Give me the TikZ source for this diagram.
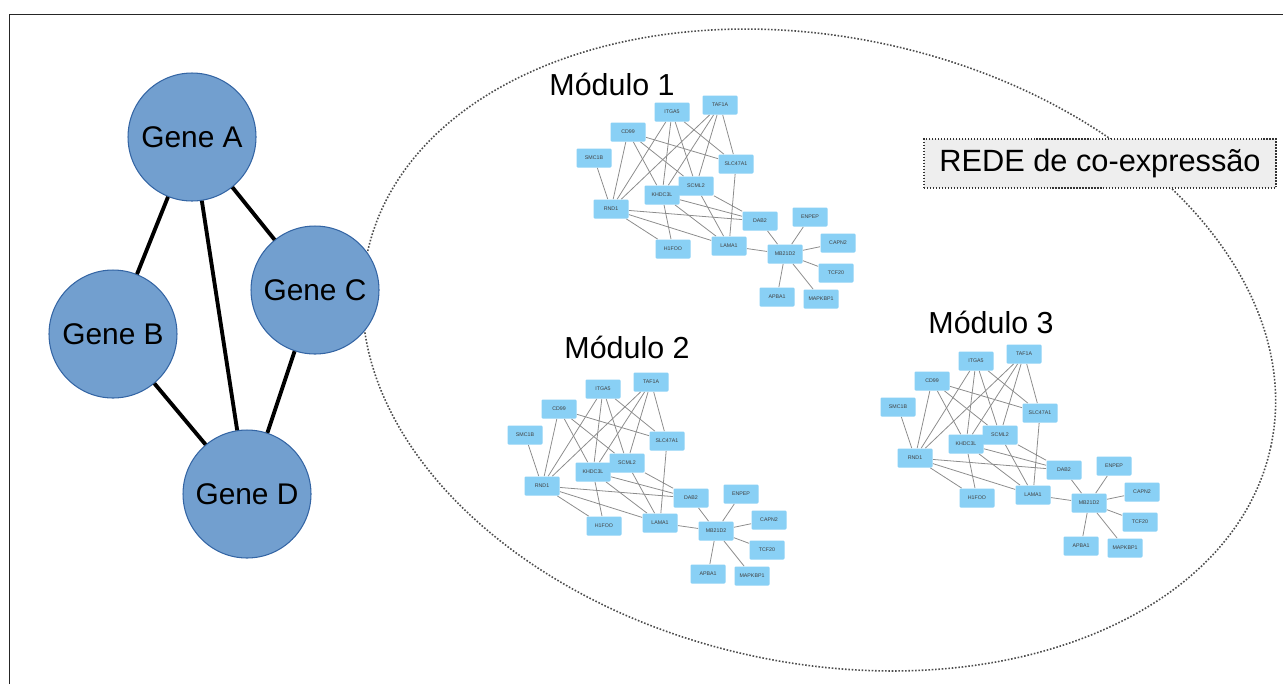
\documentclass[tikz,border=0pt]{standalone}
\usepackage{fontspec}
\setmainfont{Liberation Sans}
\usetikzlibrary{backgrounds}

\definecolor{genefill}{HTML}{729FCF}
\definecolor{geneline}{HTML}{3465A4}
\definecolor{protfill}{HTML}{89D0F5}
\definecolor{boxfill}{HTML}{EEEEEE}

\tikzset{
  gene/.style={draw=geneline,fill=genefill,circle,line width=0.6pt,inner sep=0pt,minimum size=2.56cm,font=\fontsize{17}{20}\selectfont},
  prot/.style={fill=protfill,rounded corners=0.6pt,inner sep=0pt,minimum width=0.7cm,minimum height=0.38cm,text=black!75,font=\fontsize{3}{3.5}\selectfont},
  link/.style={draw=black!45,line width=0.45pt},
  genelink/.style={draw=black,line width=2.2pt},
  modtitle/.style={font=\fontsize{17.3}{20}\selectfont},
}

\begin{document}
\begin{tikzpicture}
  [x=0.02cm,y=-0.02cm]
  \useasboundingbox (0,0) rectangle (1283,684);
  \draw[line width=0.9pt,black!85] (9.5,684) -- (9.5,14.5) -- (1283,14.5);
  \draw[densely dotted,line width=0.9pt,black!70] (819,350) ellipse [x radius=462,y radius=313,rotate=-12];
  \node[draw=black!80,densely dotted,line width=0.7pt,fill=boxfill,minimum width=7.04cm,minimum height=0.98cm,font=\fontsize{17.5}{20}\selectfont] (rede) at (1100,163.5) {REDE de co-expressão};

  \node[gene] (ga) at (192,137) {Gene A};
  \node[gene] (gb) at (113,334) {Gene B};
  \node[gene] (gc) at (315,290) {Gene C};
  \node[gene] (gd) at (247,494) {Gene D};
  \foreach \from/\to in {ga/gb,ga/gc,ga/gd,gb/gd,gc/gd}
    \draw[genelink] (\from) -- (\to);

  \node[modtitle] (t1) at (612,84) {Módulo 1};
  \node[modtitle] (t2) at (627,347) {Módulo 2};
  \node[modtitle] (t3) at (991,322) {Módulo 3};

  \foreach \m/\dx/\dy in {1/0/0,2/-69/277,3/304/249}{
    \begin{scope}[shift={(\dx,\dy)}]
      \foreach \n/\x/\y/\lab in {itga/672/112/ITGA5,taf/720/105/TAF1A,cd/628/132/CD99,smc/594/158/SMC1B,
        slc/736/164/SLC47A1,khdc/662/195/KHDC3L,scml/696/186/SCML2,rnd/611/209/RND1,dab/760/221/DAB2,
        enpep/810/217/ENPEP,hfoo/673/249/H1FOO,lama/729/246/LAMA1,mb/785/254/MB21D2,capn/838/243/CAPN2,
        tcf/836/273/TCF20,apba/777/297/APBA1,mapk/821/299/MAPKBP1}
        \node[prot] (m\m-\n) at (\x,\y) {\lab};
    \end{scope}
    \begin{pgfonlayer}{background}
      \foreach \from/\to in {smc/rnd,cd/rnd,cd/khdc,cd/scml,cd/slc,itga/rnd,itga/khdc,itga/scml,itga/slc,
        taf/rnd,taf/khdc,taf/scml,taf/slc,slc/lama,scml/dab,scml/lama,khdc/dab,khdc/lama,khdc/hfoo,
        rnd/dab,rnd/lama,rnd/hfoo,dab/mb,lama/mb,mb/enpep,mb/capn,mb/tcf,mb/apba,mb/mapk}
        \draw[link] (m\m-\from) -- (m\m-\to);
    \end{pgfonlayer}
  }
\end{tikzpicture}
\end{document}
